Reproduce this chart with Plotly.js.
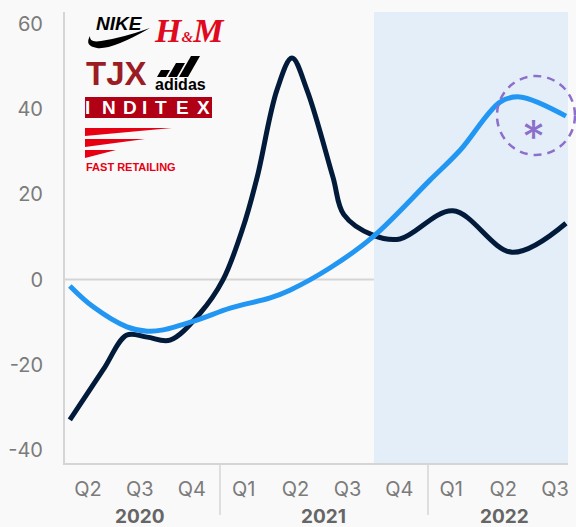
<!DOCTYPE html>
<html><head><meta charset="utf-8">
<script src="https://cdn.plot.ly/plotly-3.0.1.min.js"></script>
<style>html,body{margin:0;padding:0;background:#f9f9f9;}</style>
</head><body><div id="chart" style="width:576px;height:527px;"></div>
<script>
// ---- data ----
const quarterLabels = ['Q2','Q3','Q4','Q1','Q2','Q3','Q4','Q1','Q2','Q3'];
const quarterPos = [0,1,2,3,4,5,6,7,8,9];
const yearLabels = ['2020','2021','2022'];
const yearPos = [1.0, 4.53, 8.03];
const yTicks = [-40,-20,0,20,40,60];
const yTickText = ['-40','-20','0','20','40','60'];

const navyX = [-0.35, 0.29, 0.75, 1.14, 1.58, 2.16, 2.60, 2.99, 3.26, 3.64, 3.93, 4.22, 4.72, 4.93, 5.49, 6.01, 7.03, 8.17, 9.21];
const navyY = [-32.9, -21.2, -13.0, -13.5, -14.2, -7.9, -0.1, 12.3, 24.0, 44.4, 51.9, 44.4, 24.0, 15.2, 10.4, 9.5, 16.1, 6.4, 13.2];

const blueX = [-0.35, 0.10, 0.75, 1.14, 1.45, 2.10, 2.74, 3.51, 3.89, 4.66, 5.49, 6.59, 7.17, 7.94, 8.32, 9.21];
const blueY = [-1.5, -6.4, -11.1, -12.1, -11.8, -9.5, -6.7, -4.3, -2.5, 2.7, 10.0, 23.3, 30.3, 41.6, 42.8, 38.3];

const forecastStart = 5.51;
const separators = [2.543, 6.551];

// ---- geometry helpers (pixel -> paper) ----
const L=65, R=568, T=12, B=463;
const xMin=-0.443, xMax=9.249;
const PX = p => (p-L)/(R-L);
const PY = p => (B-p)/(B-T);
function path(pts, close){
  let s='';
  pts.forEach(c=>{
    s += c[0];
    for(let i=1;i<c.length;i+=2){ s += ' '+PX(c[i]).toFixed(5)+','+PY(c[i+1]).toFixed(5)+' '; }
  });
  return s+(close?'Z':'');
}

const font = 'Inter, "Noto Sans", sans-serif';
const gray = '#d5d5d5';
const purple = '#8b6fcb';

const traces = [
  {x: navyX, y: navyY, mode:'lines', line:{color:'#031b3b', width:5, shape:'spline', smoothing:1}, hoverinfo:'skip'},
  {x: blueX, y: blueY, mode:'lines', line:{color:'#2196f3', width:5, shape:'spline', smoothing:1}, hoverinfo:'skip'}
];

const shapes = [
  {type:'rect', xref:'x', yref:'paper', x0:forecastStart, x1:xMax, y0:0, y1:1, fillcolor:'#e4eef9', line:{width:0}, layer:'below'},
  {type:'line', xref:'x', yref:'y', x0:xMin, x1:forecastStart, y0:0, y1:0, line:{color:gray, width:2}, layer:'below'},
  {type:'circle', xref:'paper', yref:'paper', x0:PX(497), x1:PX(575), y0:PY(155), y1:PY(76), line:{color:purple, width:2.5, dash:'8px,6px'}},
  // Nike swoosh
  {type:'path', xref:'paper', yref:'paper', fillcolor:'#000', line:{width:0},
   path: path([['M',150,28],['Q',112,50,97,48],['Q',84,46,90,36],['Q',89,43,101,41],['Q',122,38,150,28]], true)},
  // adidas stripes
  {type:'path', xref:'paper', yref:'paper', fillcolor:'#000', line:{width:0}, path: path([['M',157,77],['L',166,77],['L',170,70],['L',161,70]], true)},
  {type:'path', xref:'paper', yref:'paper', fillcolor:'#000', line:{width:0}, path: path([['M',168,77],['L',177,77],['L',185,63],['L',176,63]], true)},
  {type:'path', xref:'paper', yref:'paper', fillcolor:'#000', line:{width:0}, path: path([['M',179,77],['L',188,77],['L',200,56],['L',191,56]], true)},
  // INDITEX box
  {type:'rect', xref:'paper', yref:'paper', x0:PX(85), x1:PX(212), y0:PY(118), y1:PY(97), fillcolor:'#b10016', line:{width:0}},
  // Fast Retailing wedges
  {type:'path', xref:'paper', yref:'paper', fillcolor:'#e60012', line:{width:0}, path: path([['M',85,128],['L',172,128],['L',85,136]], true)},
  {type:'path', xref:'paper', yref:'paper', fillcolor:'#e60012', line:{width:0}, path: path([['M',85,139],['L',145,139],['L',85,147]], true)},
  {type:'path', xref:'paper', yref:'paper', fillcolor:'#e60012', line:{width:0}, path: path([['M',85,150],['L',116,150],['L',85,158]], true)}
];
separators.forEach(s=>shapes.push({type:'line', xref:'x', yref:'paper', x0:s, x1:s, y0:0, y1:PY(515), line:{color:gray, width:1.5}}));

const annotations = [];
yearLabels.forEach((t,i)=>annotations.push({text:'<b>'+t+'</b>', x:yearPos[i], xref:'x', y:PY(516), yref:'paper', yanchor:'middle', xanchor:'center', showarrow:false, borderpad:0, font:{family:font, size:19, color:'#666'}}));
annotations.push({text:'*', xref:'paper', yref:'paper', x:PX(533), y:PY(137), xanchor:'center', yanchor:'middle', showarrow:false, font:{family:'Inter, sans-serif', size:46, color:purple}});
// logos
const lf = 'Liberation Sans, Arial, sans-serif';
annotations.push({text:'<b><i>NIKE</i></b>', xref:'paper', yref:'paper', x:PX(94), y:PY(23), xanchor:'left', yanchor:'middle', showarrow:false, font:{family:lf, size:19, color:'#000'}});
annotations.push({text:'<b><i>H<span style="font-size:15px">&amp;</span>M</i></b>', xref:'paper', yref:'paper', x:PX(152), y:PY(30), xanchor:'left', yanchor:'middle', showarrow:false, font:{family:'Liberation Serif, serif', size:34, color:'#e00a1f'}});
annotations.push({text:'<b>TJX</b>', xref:'paper', yref:'paper', x:PX(84), y:PY(73), xanchor:'left', yanchor:'middle', showarrow:false, font:{family:lf, size:33, color:'#9c1c24'}});
annotations.push({text:'<b>adidas</b>', xref:'paper', yref:'paper', x:PX(180), y:PY(84), xanchor:'center', yanchor:'middle', showarrow:false, font:{family:lf, size:16, color:'#000'}});
const indLetters = ['I','N','D','I','T','E','X'];
const indPos = [87.5,109,130,144.5,161,182,203];
indLetters.forEach((c,i)=>annotations.push({text:'<b>'+c+'</b>', xref:'paper', yref:'paper', x:PX(indPos[i]), y:PY(107.5), xanchor:'center', yanchor:'middle', showarrow:false, font:{family:lf, size:19, color:'#fff'}}));
annotations.push({text:'<b>FAST RETAILING</b>', xref:'paper', yref:'paper', x:PX(84), y:PY(167), xanchor:'left', yanchor:'middle', showarrow:false, font:{family:lf, size:11, color:'#e60012'}});

const layout = {
  width:576, height:527,
  margin:{l:L, r:576-R, t:T, b:527-B, pad:0},
  paper_bgcolor:'#f9f9f9', plot_bgcolor:'#f9f9f9',
  showlegend:false,
  xaxis:{range:[xMin,xMax], tickvals:quarterPos, ticktext:quarterLabels, showgrid:false, zeroline:false,
         showline:true, linecolor:gray, linewidth:2, ticks:'', ticklabelstandoff:7,
         tickfont:{family:font, size:20, color:'#7b7b7b'}, fixedrange:true},
  yaxis:{range:[-43.0,62.7], tickvals:yTicks, ticktext:yTickText, showgrid:false, zeroline:false,
         showline:true, linecolor:gray, linewidth:2, ticks:'', ticklabelstandoff:16,
         tickfont:{family:font, size:20, color:'#7b7b7b'}, fixedrange:true},
  shapes:shapes, annotations:annotations
};
Plotly.newPlot('chart', traces, layout, {displayModeBar:false, staticPlot:true});
</script></body></html>
